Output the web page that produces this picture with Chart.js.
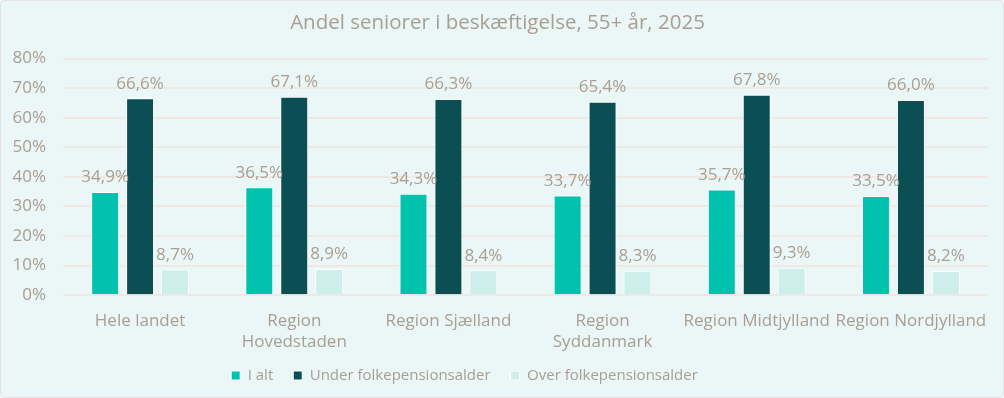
<!DOCTYPE html>
<html>
<head>
<meta charset="utf-8">
<script src="https://cdn.jsdelivr.net/npm/chart.js@4"></script>
<style>
  html, body { margin: 0; padding: 0; background: #ffffff; }
  #wrap {
    width: 1002px; height: 396px;
    background: #eaf7f6;
    border: 1px solid #e3e3e3;
    border-radius: 4px;
    position: relative;
  }
  canvas { display: block; }
</style>
</head>
<body>
<div id="wrap"><canvas id="chart" width="1002" height="396"></canvas></div>
<script>
// ── Data ────────────────────────────────────────────────
const categories = [
  "Hele landet",
  ["Region", "Hovedstaden"],
  "Region Sjælland",
  ["Region", "Syddanmark"],
  "Region Midtjylland",
  "Region Nordjylland"
];
const seriesNames = ["I alt", "Under folkepensionsalder", "Over folkepensionsalder"];
const iAlt  = [34.9, 36.5, 34.3, 33.7, 35.7, 33.5];
const under = [66.6, 67.1, 66.3, 65.4, 67.8, 66.0];
const over  = [8.7, 8.9, 8.4, 8.3, 9.3, 8.2];

const TEXT  = "#a89e93";
const FONT  = "'Open Sans'";
const COLORS = ["#00c2ad", "#0b4f55", "#cdeeea"];
const LEGEND_SHRINK = 12;  // px taken off the legend box height
const LEGEND_SHIFT  = 33;  // legend sits a bit left of centre in the original

const fmt = v => v.toFixed(1).replace(".", ",") + "%";

// simple value labels above each bar
const valueLabels = {
  id: "valueLabels",
  afterDatasetsDraw(chart) {
    const ctx = chart.ctx;
    ctx.save();
    ctx.fillStyle = TEXT;
    ctx.font = "17px " + FONT;
    ctx.textAlign = "center";
    ctx.textBaseline = "bottom";
    chart.data.datasets.forEach((ds, i) => {
      chart.getDatasetMeta(i).data.forEach((bar, j) => {
        ctx.fillText(fmt(ds.data[j]), bar.x, bar.y - 6);
      });
    });
    ctx.restore();
  }
};

// legend sits closer to the axis labels than Chart.js puts it by default
const tightLegend = {
  id: "tightLegend",
  beforeInit(chart) {
    const fit = chart.legend.fit;
    chart.legend.fit = function () {
      fit.call(this);
      this.height -= LEGEND_SHRINK;
    };
  },
  afterLayout(chart) {
    const lg = chart.legend;
    lg.top -= LEGEND_SHRINK;       // keep bottom where it is so nothing is clipped
    lg.left -= LEGEND_SHIFT;
    lg.right -= LEGEND_SHIFT;
  }
};

const makeSet = (label, data, color) => ({
  label, data,
  backgroundColor: color,
  borderColor: "#ffffff",
  borderWidth: 1,
  barPercentage: 0.8,
  categoryPercentage: 0.68
});

new Chart(document.getElementById("chart"), {
  type: "bar",
  data: {
    labels: categories,
    datasets: [
      makeSet(seriesNames[0], iAlt,  COLORS[0]),
      makeSet(seriesNames[1], under, COLORS[1]),
      makeSet(seriesNames[2], over,  COLORS[2])
    ]
  },
  options: {
    responsive: false,
    animation: false,
    layout: { padding: { left: 6, right: 15, top: 4, bottom: 4 } },
    plugins: {
      title: {
        display: true,
        text: "Andel seniorer i beskæftigelse, 55+ år, 2025",
        color: TEXT,
        font: { family: FONT, size: 20.5, weight: "normal" },
        padding: { top: 6, bottom: 23 }
      },
      legend: {
        position: "bottom",
        labels: {
          color: TEXT,
          font: { family: FONT, size: 15 },
          usePointStyle: true,
          pointStyle: "rect",
          boxWidth: 9,
          boxHeight: 9,
          padding: 20
        }
      },
      tooltip: { enabled: false }
    },
    scales: {
      x: {
        grid: { display: false },
        border: { display: false },
        ticks: { color: TEXT, font: { family: FONT, size: 17, lineHeight: 1.2 }, maxRotation: 0, autoSkip: false, padding: 8 }
      },
      y: {
        min: 0, max: 80,
        afterFit: scale => { scale.width = 56; },
        grid: { color: "#f1e7e3", lineWidth: 2, drawTicks: false },
        border: { display: false },
        ticks: { stepSize: 10, color: TEXT, font: { family: FONT, size: 17 }, padding: 17, callback: v => v + "%" }
      }
    }
  },
  plugins: [valueLabels, tightLegend]
});
</script>
</body>
</html>
